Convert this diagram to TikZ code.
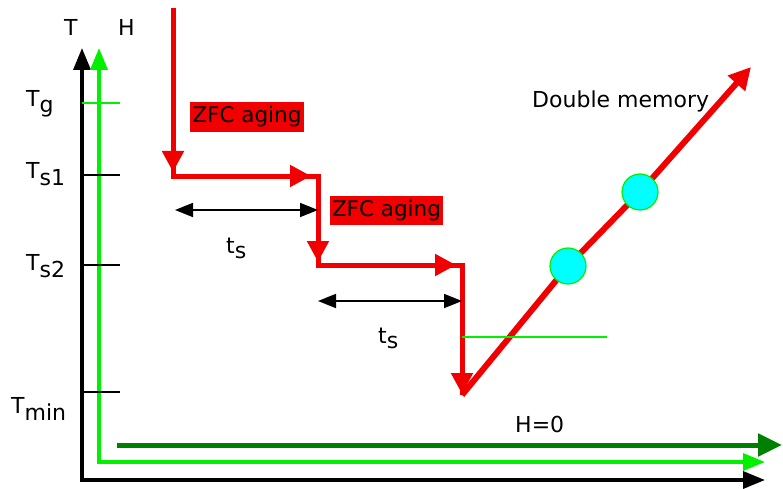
\documentclass[tikz,border=0pt]{standalone}
\usepackage{fontspec}
\setmainfont{DejaVu Sans}
\usetikzlibrary{arrows.meta}
\definecolor{redline}{RGB}{240,0,0}
\definecolor{lgreen}{RGB}{0,240,0}
\definecolor{dgreen}{RGB}{0,128,0}
\definecolor{cyanfill}{RGB}{0,255,255}
\tikzset{
  lbl/.style={anchor=base west,inner sep=0pt,font=\fontsize{22}{25}\selectfont},
  redseg/.style={redline,line width=5pt,-{Triangle[length=21pt,width=21pt]}},
  redbase/.style={redline,line width=5pt,line join=miter},
  tick/.style={line width=2pt},
  span/.style={black,line width=1.8pt,{Triangle[length=18pt,width=14pt]}-{Triangle[length=18pt,width=14pt]}},
  zfc/.style={fill=redline,inner sep=0pt,minimum width=114pt,minimum height=30pt,font=\fontsize{21.5}{24}\selectfont},
  memdot/.style={circle,fill=cyanfill,draw=lgreen,line width=1.2pt,minimum size=36pt,inner sep=0pt}
}
\begin{document}
\begin{tikzpicture}[x=1pt,y=-1pt]
\useasboundingbox (0,0) rectangle (783,489);
% coordinates
\coordinate (O) at (82,480);
\coordinate (Ttip) at (82,48);
\coordinate (Xtip) at (765,480);
\coordinate (OH) at (99,462);
\coordinate (Htip) at (99,48);
\coordinate (HXtip) at (765,462);
\coordinate (H0s) at (117,445);
\coordinate (H0e) at (782,445);
% axes
\draw[black,line width=3.5pt,line join=miter,{Triangle[length=22pt,width=17pt]}-{Triangle[length=22pt,width=17pt]}] (Ttip) -- (O) -- (Xtip);
\draw[lgreen,line width=3.5pt,line join=miter,{Triangle[length=22pt,width=17pt]}-{Triangle[length=22pt,width=17pt]}] (Htip) -- (OH) -- (HXtip);
\draw[dgreen,line width=5pt,-{Triangle[length=24pt,width=22pt]}] (H0s) -- (H0e);
% ticks
\coordinate (tg0) at (82,103); \coordinate (tg1) at (120,103);
\coordinate (t10) at (82,175); \coordinate (t11) at (120,175);
\coordinate (t20) at (82,265); \coordinate (t21) at (120,265);
\coordinate (tm0) at (82,392); \coordinate (tm1) at (120,392);
\draw[tick,lgreen] (tg0) -- (tg1);
\draw[tick] (t10) -- (t11);
\draw[tick] (t20) -- (t21);
\draw[tick] (tm0) -- (tm1);
% axis labels
\node[lbl] (lT) at (64,36) {T};
\node[lbl] (lH) at (118,36) {H};
\node[lbl] (lTg) at (26,107) {T\raisebox{-6pt}{g}};
\node[lbl] (lTs1) at (26,178) {T\raisebox{-7pt}{s1}};
\node[lbl] (lTs2) at (26,270) {T\raisebox{-7pt}{s2}};
\node[lbl] (lTmin) at (11,413) {T\raisebox{-7pt}{min}};
% red protocol path
\coordinate (S) at (173,8);
\coordinate (C1) at (173,176);
\coordinate (C2) at (318,176);
\coordinate (C3) at (318,265);
\coordinate (C4) at (462,265);
\coordinate (C5) at (462,395);
\coordinate (M1) at (568,266);
\coordinate (M2) at (640,192);
\coordinate (E) at (751,67);
\coordinate (a1) at (173,172);
\coordinate (a2) at (311,176);
\coordinate (a3) at (318,262);
\coordinate (a4) at (456,265);
\coordinate (a5) at (462,394);
\draw[redbase] (S) -- (C1) -- (C2) -- (C3) -- (C4) -- (C5);
\draw[redbase,line width=6pt] (C5) -- (M1) -- (M2);
\draw[redseg] (S) -- (a1);
\draw[redseg] (C1) -- (a2);
\draw[redseg] (C2) -- (a3);
\draw[redseg] (C3) -- (a4);
\draw[redseg] (C4) -- (a5);
\draw[redseg,line width=6pt,-{Triangle[length=22pt,width=22pt]}] (M2) -- (E);
% green level line
\coordinate (g0) at (462,337); \coordinate (g1) at (607,337);
\draw[lgreen,line width=1.8pt] (g0) -- (g1);
% memory dots
\node[memdot] (d1) at (M1) {};
\node[memdot] (d2) at (M2) {};
% ZFC aging labels
\node[zfc] (z1) at (247,117) {ZFC aging};
\node[zfc,minimum width=113pt,minimum height=29pt] (z2) at (386.5,210.5) {ZFC aging};
% waiting-time spans
\coordinate (w1a) at (175,210); \coordinate (w1b) at (318,210);
\coordinate (w2a) at (318,301); \coordinate (w2b) at (462,301);
\draw[span] (w1a) -- (w1b);
\draw[span] (w2a) -- (w2b);
\node[lbl] (ts1) at (226,253) {t\raisebox{-5pt}{s}};
\node[lbl] (ts2) at (378,343) {t\raisebox{-5pt}{s}};
% other labels
\node[lbl] (dm) at (532,108) {Double memory};
\node[lbl] (h0) at (515,432) {H=0};
\end{tikzpicture}
\end{document}
